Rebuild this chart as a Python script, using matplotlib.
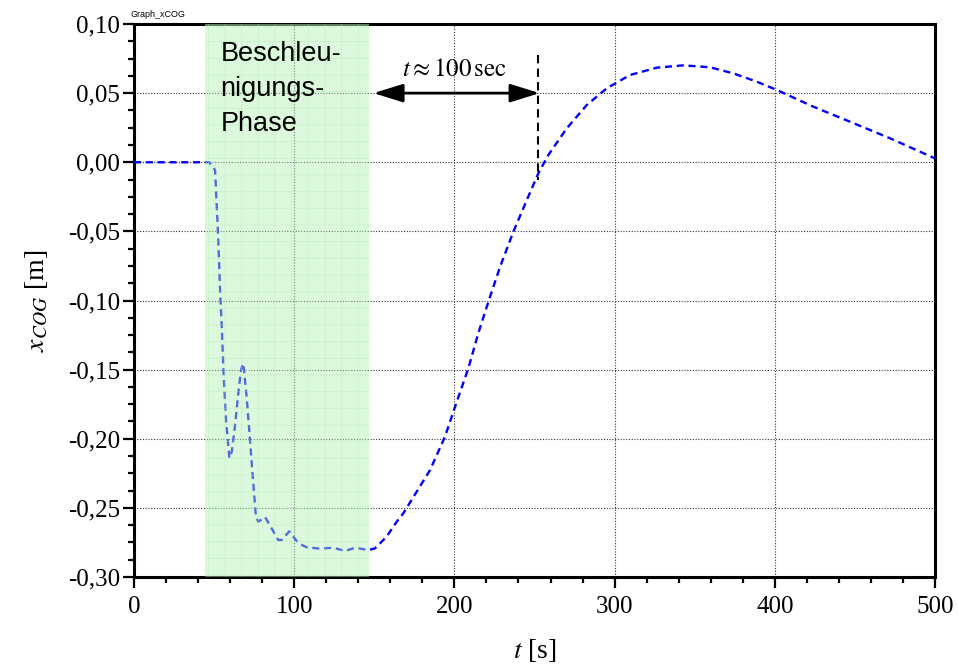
import matplotlib.pyplot as plt
import matplotlib.ticker as mticker

plt.rcParams['font.family'] = ['Liberation Serif', 'DejaVu Serif']
plt.rcParams['mathtext.fontset'] = 'stix'
plt.rcParams['hatch.linewidth'] = 0.5

# Zeit [s] und Schwerpunktlage x_COG [m]
t = [0, 47, 50.6, 52.6, 53.7, 54.8, 55.8, 57.4, 58.9, 59.5, 61, 63, 65.1, 66.8,
     68.2, 70.3, 72.4, 74.1, 76.1, 77.6, 81.8, 85.9, 90, 92.2, 96.9, 102.6,
     107.8, 116, 124.4, 131.7, 138, 146.3, 150.4, 157.5, 164, 168.1, 184.8,
     194.1, 200.4, 208.7, 214.9, 221.2, 228.5, 236.8, 245.2, 252.4, 258.6,
     270.1, 282.6, 295.1, 309.6, 326.3, 342.9, 359.6, 374.1, 388.7, 401.2,
     424, 447, 472, 500]
x_cog = [0, 0, -0.0056, -0.0562, -0.0924, -0.12, -0.150, -0.1864, -0.2057,
         -0.214, -0.2094, -0.191, -0.167, -0.150, -0.1455, -0.1696, -0.2009,
         -0.2274, -0.2564, -0.26, -0.2566, -0.2648, -0.2732, -0.2732, -0.267,
         -0.2756, -0.2785, -0.2795, -0.2788, -0.2812, -0.2788, -0.2805, -0.2793,
         -0.271, -0.26, -0.2539, -0.2226, -0.1985, -0.1768, -0.149, -0.1237,
         -0.1009, -0.0756, -0.0502, -0.0273, -0.008, 0.0052, 0.0245, 0.0414,
         0.0535, 0.0631, 0.0684, 0.0701, 0.0687, 0.0643, 0.0583, 0.0523,
         0.0402, 0.0293, 0.0173, 0.0028]

phase_start, phase_end = 44, 146.5
arrow_left, arrow_right = 149.5, 253.2

fig = plt.figure(figsize=(9.58, 6.65), dpi=100)
ax = fig.add_axes([0.1399, 0.1323, 0.8361, 0.8316])

ax.plot(t, x_cog, color='#0000ff', lw=1.7, ls=(0, (3, 2)), zorder=3)

# Beschleunigungsphase (halbtransparent ueber der Kurve)
ax.axvspan(phase_start, phase_end, facecolor='#b4f2b4', edgecolor='#a8eca8',
           alpha=0.45, hatch='+', lw=0, zorder=4)
ax.text(54, 0.0875, 'Beschleu-\nnigungs-\nPhase', family='Liberation Sans',
        fontsize=19.5, va='top', ha='left', linespacing=1.45, zorder=5)

ax.annotate('', xy=(arrow_left, 0.05), xytext=(arrow_right, 0.05),
            arrowprops=dict(arrowstyle='<|-|>,head_length=0.9,head_width=0.28',
                            color='k', lw=2, mutation_scale=20,
                            shrinkA=0, shrinkB=0), zorder=5)
ax.plot([arrow_right - 0.8, arrow_right - 0.8], [0.0776, -0.013], color='k',
        lw=1.5, ls=(0, (4, 2.5)), zorder=5)
ax.text(200, 0.0585, r'$t \approx 100\,\mathrm{sec}$', fontsize=18,
        ha='center', va='bottom', zorder=5)

ax.set_xlim(0, 500)
ax.set_ylim(-0.30, 0.10)
ax.xaxis.set_major_locator(mticker.MultipleLocator(100))
ax.xaxis.set_minor_locator(mticker.MultipleLocator(20))
ax.yaxis.set_major_locator(mticker.MultipleLocator(0.05))
ax.yaxis.set_minor_locator(mticker.MultipleLocator(0.0125))
ax.yaxis.set_major_formatter(mticker.FuncFormatter(
    lambda v, p: ('%.2f' % v).replace('.', ',').replace('−', '-')))

ax.grid(which='major', color='#333333', ls=(0, (1, 1.5)), lw=0.8, zorder=1)
for sp in ax.spines.values():
    sp.set_linewidth(2.2)
ax.tick_params(which='major', direction='out', length=8, width=1.6,
               labelsize=18, pad=2)
ax.tick_params(which='minor', direction='out', length=4.5, width=1.6)
ax.tick_params(axis='x', pad=6)

ax.set_xlabel(r'$t$ [s]', fontsize=20, labelpad=13)
ax.set_ylabel(r'$x_{COG}$ [m]', fontsize=20, labelpad=13)

fig.text(0.1357, 0.972, 'Graph_xCOG', family='Liberation Sans', fontsize=6.5,
         va='bottom')

fig.savefig('out.png', dpi=100)
